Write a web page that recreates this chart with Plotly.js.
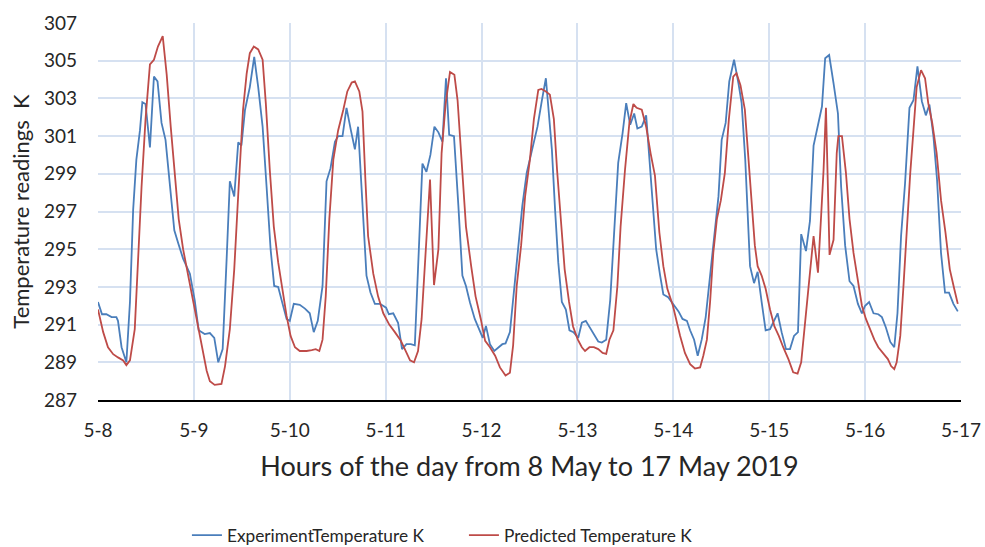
<!DOCTYPE html>
<html>
<head>
<meta charset="utf-8">
<script src="https://cdn.plot.ly/plotly-3.0.1.min.js"></script>
<style>html,body{margin:0;padding:0;background:#fff;}#chart{width:985px;height:547px;}</style>
</head>
<body>
<div id="chart"></div>
<script>
// Hours since 2019-05-08 00:00 and temperature readings (K)
const expHours = [0.0,1.0,2.1,3.4,4.6,5.0,5.9,7.1,8.0,8.8,9.6,10.5,11.1,11.9,13.0,14.0,14.9,15.9,16.9,18.0,19.1,20.1,21.3,23.0,24.2,25.2,26.7,28.0,29.1,30.1,31.2,32.2,33.0,34.1,35.1,35.9,36.8,38.0,39.1,40.1,41.2,42.2,43.2,44.1,45.1,46.2,47.2,48.0,49.0,50.5,51.8,53.0,54.0,55.0,56.2,57.2,58.2,59.3,60.1,61.2,62.2,63.3,64.3,65.1,66.2,67.2,68.2,69.3,70.6,72.1,72.8,73.9,75.1,76.1,77.2,78.3,79.3,80.2,81.2,82.2,83.2,84.2,85.2,86.2,87.1,87.9,89.1,90.2,91.2,92.1,93.1,94.3,95.4,96.3,97.1,98.1,99.2,100.2,101.2,102.0,103.1,104.4,105.2,106.2,107.3,108.5,109.4,110.0,111.1,112.1,112.7,113.6,114.4,115.2,116.1,117.1,118.0,119.0,120.2,121.1,122.1,123.1,124.1,125.2,126.1,127.2,128.2,129.2,130.2,131.3,132.2,133.2,134.2,135.0,136.1,137.2,138.0,138.8,139.7,140.7,141.5,142.7,144.0,145.3,146.3,147.4,148.2,149.2,150.1,151.1,152.1,153.2,154.3,155.3,156.1,157.1,158.0,159.2,160.3,161.1,162.0,162.6,163.2,164.2,165.1,166.1,167.1,168.2,169.3,170.1,171.1,172.2,173.2,174.2,175.2,176.0,177.2,178.2,179.1,180.2,181.2,182.0,183.0,184.1,185.2,186.0,187.0,188.1,189.1,190.2,191.2,192.0,193.0,194.1,195.3,196.2,197.2,198.3,199.3,200.1,201.0,202.0,203.1,204.1,205.1,206.2,207.2,208.1,209.1,210.0,211.0,212.0,213.0,214.1,215.2];
const expTemp = [292.2,291.55,291.55,291.4,291.4,291.2,289.8,289.0,292.2,297.1,299.75,301.3,302.8,302.7,300.4,304.16,303.9,301.7,300.8,298.3,296.0,295.3,294.5,293.7,292.3,290.7,290.5,290.55,290.3,289.0,289.7,294.5,298.6,297.8,300.67,300.5,302.4,303.6,305.2,303.6,301.5,298.3,295.0,293.05,293.0,292.1,291.3,291.2,292.1,292.05,291.85,291.6,290.6,291.2,293.05,298.6,299.3,300.7,301.0,301.0,302.5,301.3,300.3,301.5,297.6,293.6,292.7,292.1,292.1,291.9,291.55,291.6,291.1,289.7,289.96,289.96,289.9,294.8,299.54,299.1,300.0,301.5,301.2,300.7,304.07,301.07,301.0,297.3,293.6,293.05,292.17,291.3,290.76,290.3,290.93,289.96,289.6,289.8,289.96,290.0,290.6,293.4,295.0,297.3,299.05,300.1,300.9,301.5,302.9,304.07,302.57,300.3,297.1,294.3,292.2,291.8,290.7,290.6,290.3,291.1,291.2,290.85,290.5,290.1,290.05,290.2,292.3,295.7,299.58,301.16,302.75,301.6,302.2,301.4,301.5,302.1,299.9,297.3,295.0,293.6,292.6,292.45,292.1,291.7,291.3,291.2,290.7,290.2,289.35,290.2,291.4,293.7,295.7,297.8,300.8,301.7,303.9,305.05,303.8,302.75,299.75,296.9,294.1,293.2,293.8,292.2,290.7,290.76,291.2,291.6,290.6,289.7,289.7,290.4,290.6,295.8,294.9,296.5,300.5,301.5,302.57,305.13,305.3,303.8,302.2,298.3,295.2,293.3,293.05,292.1,291.6,292.0,292.2,291.6,291.55,291.4,290.85,290.08,289.8,291.6,295.7,298.5,302.5,302.9,304.7,302.85,302.1,302.67,301.0,298.7,294.8,292.7,292.7,292.1,291.7];

const predHours = [0.0,1.3,2.5,3.8,5.0,6.3,7.1,8.0,9.2,10.0,10.9,11.9,13.0,14.0,15.0,16.2,17.2,18.2,19.2,20.2,21.3,22.6,23.8,25.1,26.1,27.2,28.0,29.2,30.9,31.8,33.0,34.1,35.1,36.3,37.2,38.0,39.0,40.1,41.2,42.0,43.0,44.0,45.1,46.2,47.2,48.2,49.3,50.5,52.2,53.5,54.5,55.4,56.2,57.0,57.9,58.9,60.1,61.4,62.4,63.5,64.3,65.4,66.2,66.9,67.6,68.9,70.1,71.4,72.9,74.3,75.8,77.0,78.1,79.1,80.1,81.0,82.0,83.1,84.1,85.2,86.0,87.0,88.1,89.2,90.0,91.0,92.1,93.4,94.5,95.8,96.9,98.1,99.4,100.6,102.0,103.1,103.9,104.8,105.9,106.9,108.1,109.1,110.2,111.0,112.1,113.1,114.1,114.9,115.8,116.8,117.9,118.9,120.1,121.1,121.9,123.0,124.1,125.2,126.3,127.2,128.0,129.0,130.0,130.8,131.9,133.0,134.0,134.8,136.1,137.2,138.3,139.4,140.5,141.5,142.5,143.9,145.7,146.9,148.2,149.4,150.7,151.5,152.4,153.2,154.0,154.9,155.9,156.9,157.9,159.0,159.8,160.8,161.9,162.7,163.6,164.4,165.1,166.1,167.1,168.2,169.3,170.4,171.5,172.8,174.0,175.1,176.0,176.8,177.8,179.1,180.2,181.0,181.6,182.2,183.1,184.1,184.9,185.3,186.2,187.2,188.1,189.1,190.2,191.2,192.2,193.3,194.3,195.3,196.6,197.7,198.5,199.3,199.9,200.8,201.6,202.4,203.3,204.1,204.9,206.0,207.0,207.8,208.8,209.9,211.0,212.1,213.2,214.3,215.2];
const predTemp = [291.8,290.6,289.8,289.43,289.26,289.1,288.85,289.1,290.76,294.5,298.3,301.9,304.8,305.05,305.75,306.3,304.25,301.5,299.05,296.6,295.0,293.6,292.2,290.9,289.8,288.55,288.0,287.8,287.85,288.8,290.76,293.93,297.9,302.4,304.3,305.4,305.75,305.6,305.05,302.75,299.2,296.2,294.3,292.7,291.46,290.4,289.8,289.6,289.6,289.65,289.7,289.6,290.2,292.5,296.6,299.75,301.3,302.4,303.37,303.84,303.9,303.37,302.3,298.8,295.7,293.7,292.5,291.6,291.0,290.6,290.14,289.6,289.1,289.0,289.6,291.3,294.8,298.7,293.1,295.0,300.1,302.7,304.4,304.25,302.9,299.75,296.2,294.1,292.5,291.3,290.14,289.8,289.35,288.73,288.3,288.45,289.9,293.05,295.2,297.8,299.75,301.9,303.45,303.5,303.37,303.2,301.9,299.2,296.6,293.93,292.2,290.9,290.2,289.8,289.6,289.8,289.8,289.7,289.5,289.45,290.2,290.7,293.05,296.2,299.2,301.7,302.7,302.5,302.4,301.5,300.1,298.9,295.9,294.1,292.9,292.0,290.4,289.5,288.9,288.67,288.73,289.35,290.2,292.2,294.8,296.6,297.6,299.05,301.9,304.16,304.34,303.7,302.4,300.1,297.3,295.2,294.1,293.6,292.9,291.8,290.9,290.4,289.8,289.17,288.47,288.4,289.0,290.6,292.9,295.7,293.75,296.8,299.2,302.5,294.7,295.5,300.1,301.0,301.0,299.05,296.6,294.8,293.2,292.0,291.3,290.7,290.2,289.8,289.43,289.17,288.8,288.64,289.0,290.4,293.05,296.2,299.05,301.3,303.6,304.5,304.07,302.75,301.7,300.1,297.6,295.9,293.93,292.9,292.1];

const dayTickHours = [0,24,48,72,96,120,144,168,192,216];
const dayTickLabels = ['5-8','5-9','5-10','5-11','5-12','5-13','5-14','5-15','5-16','5-17'];
const tempTicks = [287,289,291,293,295,297,299,301,303,305,307];

const FONT = 'Lato, "Open Sans", sans-serif';
const TEXT = '#262626';

const traces = [
  {x: expHours, y: expTemp, type: 'scatter', mode: 'lines', name: 'ExperimentTemperature K',
   line: {color: '#4a7ebb', width: 1.8}},
  {x: predHours, y: predTemp, type: 'scatter', mode: 'lines', name: 'Predicted Temperature K',
   line: {color: '#be4b48', width: 1.8}}
];

const layout = {
  width: 985, height: 547,
  margin: {l: 98, r: 24, t: 23, b: 147},
  paper_bgcolor: '#ffffff', plot_bgcolor: '#ffffff',
  font: {family: FONT, color: TEXT, size: 19},
  showlegend: true,
  legend: {orientation: 'h', xref: 'container', yref: 'container', x: 0.471, xanchor: 'center',
           y: 0.054, yanchor: 'top', entrywidth: 232, entrywidthmode: 'pixels',
           font: {family: FONT, size: 17.3, color: TEXT}},
  xaxis: {
    range: [0, 216], tickmode: 'array', tickvals: dayTickHours, ticktext: dayTickLabels,
    showgrid: true, gridcolor: '#d6e1f1', gridwidth: 2, zeroline: false,
    showline: true, linecolor: '#000000', linewidth: 2, ticks: '', ticklabelstandoff: 12,
    tickfont: {family: FONT, size: 19, color: TEXT},
    title: {text: 'Hours of the day from 8 May to 17 May 2019', standoff: 17,
            font: {family: FONT, size: 27, color: TEXT}}
  },
  yaxis: {
    range: [287, 307], tickmode: 'array', tickvals: tempTicks,
    showgrid: true, gridcolor: '#d6e1f1', gridwidth: 2, zeroline: false,
    showline: false, ticks: '', ticklabelstandoff: 20,
    tickfont: {family: FONT, size: 19, color: TEXT},
    title: {text: 'Temperature readings  K', standoff: 8,
            font: {family: FONT, size: 22, color: TEXT}}
  }
};

Plotly.newPlot('chart', traces, layout, {displayModeBar: false, staticPlot: true});
</script>
</body>
</html>
